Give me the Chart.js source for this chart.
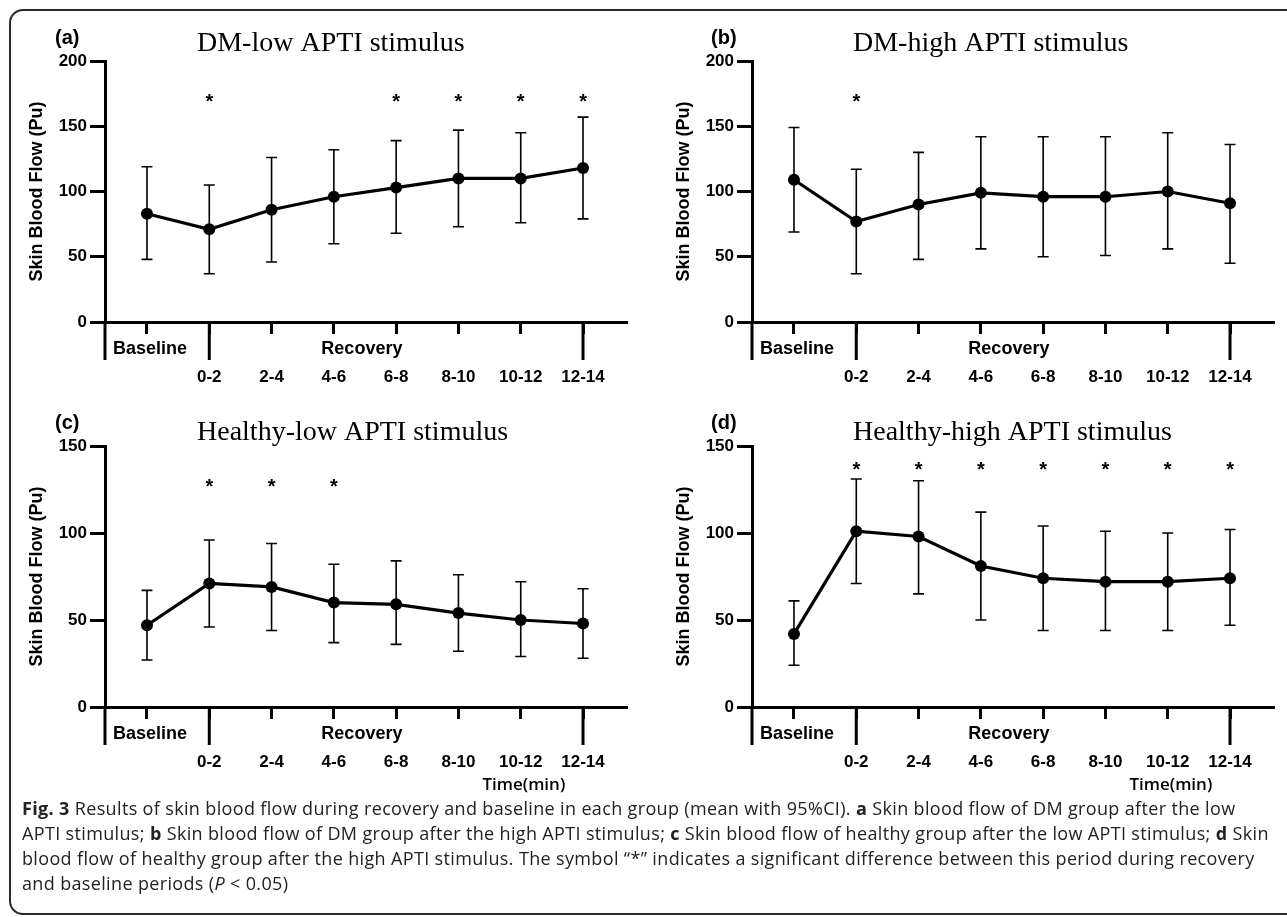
<!DOCTYPE html>
<html>
<head>
<meta charset="utf-8">
<script src="https://cdn.jsdelivr.net/npm/chart.js@4.4.0/dist/chart.umd.min.js"></script>
<style>
    body {
        margin: 0;
        width: 1287px;
        height: 917px;
        overflow: hidden;
        position: relative;
        background: #fff;
    }
    .frame {
        position: absolute;
        left: 9px;
        top: 9px;
        width: 1320px;
        height: 906px;
        box-sizing: border-box;
        border: 2px solid #2a2a2a;
        border-radius: 14px;
    }
    canvas {
        position: absolute;
    }
    #caption {
        position: absolute;
        left: 22px;
        top: 796px;
        font-family: 'Open Sans', 'DejaVu Sans', sans-serif;
        font-size: 18px;
        letter-spacing: 0.35px;
        line-height: 25px;
        color: #222;
        white-space: nowrap;
    }
</style>
</head>
<body>
<div class="frame"></div>
<canvas id="chartA" width="640" height="395" style="left:0;top:0"></canvas>
<canvas id="chartB" width="640" height="395" style="left:647px;top:0"></canvas>
<canvas id="chartC" width="640" height="420" style="left:0;top:385px"></canvas>
<canvas id="chartD" width="640" height="420" style="left:647px;top:385px"></canvas>
<div id="caption">
<b>Fig. 3</b> Results of skin blood flow during recovery and baseline in each group (mean with 95%CI). <b>a</b> Skin blood flow of DM group after the low<br>
APTI stimulus; <b>b</b> Skin blood flow of DM group after the high APTI stimulus; <b>c</b> Skin blood flow of healthy group after the low APTI stimulus; <b>d</b> Skin<br>
blood flow of healthy group after the high APTI stimulus. The symbol “*” indicates a significant difference between this period during recovery<br>
and baseline periods (<i>P</i> &lt; 0.05)
</div>
<script>
const categories = ['Baseline', '0-2', '2-4', '4-6', '6-8', '8-10', '10-12', '12-14'];

// (a) DM group, low stimulus
const dmLowMean = [83, 71, 86, 96, 103, 110, 110, 118];
const dmLowLower = [48, 37, 46, 60, 68, 73, 76, 79];
const dmLowUpper = [119, 105, 126, 132, 139, 147, 145, 157];
const dmLowStars = [1, 4, 5, 6, 7];

// (b) DM group, high stimulus
const dmHighMean = [109, 77, 90, 99, 96, 96, 100, 91];
const dmHighLower = [69, 37, 48, 56, 50, 51, 56, 45];
const dmHighUpper = [149, 117, 130, 142, 142, 142, 145, 136];
const dmHighStars = [1];

// (c) healthy group, low stimulus
const healthyLowMean = [47, 71, 69, 60, 59, 54, 50, 48];
const healthyLowLower = [27, 46, 44, 37, 36, 32, 29, 28];
const healthyLowUpper = [67, 96, 94, 82, 84, 76, 72, 68];
const healthyLowStars = [1, 2, 3];

// (d) healthy group, high stimulus
const healthyHighMean = [42, 101, 98, 81, 74, 72, 72, 74];
const healthyHighLower = [24, 71, 65, 50, 44, 44, 44, 47];
const healthyHighUpper = [61, 131, 130, 112, 104, 101, 100, 102];
const healthyHighStars = [1, 2, 3, 4, 5, 6, 7];

const SANS = "'Liberation Sans', Arial, sans-serif";
const SERIF = "'Liberation Serif', 'Times New Roman', serif";

const panelDecor = {
    id: 'panelDecor',
    beforeDatasetsDraw: function (chart, args, opts) {
        const ctx = chart.ctx;
        const xs = chart.scales.x;
        const ys = chart.scales.y;
        ctx.save();
        ctx.strokeStyle = '#000';
        ctx.lineWidth = 1.6;
        opts.mean.forEach((v, i) => {
            const x = xs.getPixelForValue(i);
            const top = ys.getPixelForValue(opts.upper[i]);
            const bot = ys.getPixelForValue(opts.lower[i]);
            ctx.beginPath();
            ctx.moveTo(x, top);
            ctx.lineTo(x, bot);
            ctx.moveTo(x - 5.5, top);
            ctx.lineTo(x + 5.5, top);
            ctx.moveTo(x - 5.5, bot);
            ctx.lineTo(x + 5.5, bot);
            ctx.stroke();
        });
        ctx.restore();
    },
    afterDraw: function (chart, args, opts) {
        const ctx = chart.ctx;
        const xs = chart.scales.x;
        const ys = chart.scales.y;
        const area = chart.chartArea;
        ctx.save();
        ctx.fillStyle = '#000';
        ctx.strokeStyle = '#000';

        // group dividers below the axis
        ctx.lineWidth = 3;
        ctx.beginPath();
        ctx.moveTo(area.left, area.bottom);
        ctx.lineTo(area.left, area.bottom + 38);
        [1, 7].forEach(i => {
            const x = xs.getPixelForValue(i);
            ctx.moveTo(x, area.bottom);
            ctx.lineTo(x, area.bottom + 38);
        });
        ctx.stroke();

        // panel letter and title
        ctx.textBaseline = 'middle';
        ctx.textAlign = 'left';
        ctx.font = `bold 20px ${SANS}`;
        ctx.fillText(opts.letter, opts.letterX, 38);
        ctx.textBaseline = 'alphabetic';
        ctx.font = `28px ${SERIF}`;
        ctx.fillText(opts.title, opts.titleX, opts.titleY);

        // group labels
        ctx.textAlign = 'center';
        ctx.textBaseline = 'middle';
        ctx.font = `bold 18px ${SANS}`;
        ctx.fillText('Baseline', xs.getPixelForValue(0.05), area.bottom + 27);
        ctx.fillText('Recovery', xs.getPixelForValue(3.45), area.bottom + 27);

        // significance marks
        ctx.font = `bold 20px ${SANS}`;
        opts.stars.forEach(i => {
            ctx.fillText('*', xs.getPixelForValue(i), ys.getPixelForValue(opts.starAt) + 4);
        });

        if (opts.timeLabel) {
            ctx.font = `600 17px 'Open Sans', ${SANS}`;
            ctx.fillText('Time(min)', xs.getPixelForValue(6.05), area.bottom + 78);
        }
        ctx.restore();
    }
};

function makePanel(canvasId, cfg) {
    const ctx = document.getElementById(canvasId).getContext('2d');
    return new Chart(ctx, {
        type: 'line',
        data: {
            datasets: [{
                data: cfg.mean.map((v, i) => ({ x: i, y: v })),
                borderColor: '#000',
                borderWidth: 3.2,
                pointRadius: 6,
                pointBorderWidth: 0,
                pointBackgroundColor: '#000',
                tension: 0
            }]
        },
        options: {
            responsive: false,
            animation: false,
            layout: {
                padding: { left: 0, right: 13, top: 61, bottom: cfg.timeLabel ? 38 : 13 }
            },
            plugins: {
                legend: { display: false },
                tooltip: { enabled: false },
                panelDecor: cfg
            },
            scales: {
                x: {
                    type: 'linear',
                    min: -0.674,
                    max: 7.706,
                    afterBuildTicks: function (axis) {
                        axis.ticks = categories.map((c, i) => ({ value: i }));
                    },
                    afterFit: function (axis) {
                        axis.height = 60;
                    },
                    grid: {
                        drawOnChartArea: false,
                        tickLength: 12,
                        tickWidth: 3,
                        tickColor: '#000'
                    },
                    border: { display: true, color: '#000', width: 3 },
                    ticks: {
                        color: '#000',
                        autoSkip: false,
                        maxRotation: 0,
                        padding: 33,
                        font: { family: SANS, weight: 'bold', size: 17 },
                        callback: function (value) {
                            return value === 0 ? '' : categories[value];
                        }
                    }
                },
                y: {
                    min: 0,
                    max: cfg.yMax,
                    afterFit: function (axis) {
                        axis.width = 105;
                    },
                    grid: {
                        drawOnChartArea: false,
                        tickLength: 15,
                        tickWidth: 3,
                        tickColor: '#000'
                    },
                    border: { display: true, color: '#000', width: 3 },
                    ticks: {
                        stepSize: 50,
                        color: '#000',
                        padding: 3,
                        font: { family: SANS, weight: 'bold', size: 17 }
                    },
                    title: {
                        display: true,
                        text: 'Skin Blood Flow (Pu)',
                        color: '#000',
                        padding: { top: 26, bottom: 0 },
                        font: { family: SANS, weight: 'bold', size: 18 }
                    }
                }
            }
        },
        plugins: [panelDecor]
    });
}

makePanel('chartA', {
    letter: '(a)', letterX: 55, title: 'DM-low APTI stimulus', titleX: 197, titleY: 51,
    mean: dmLowMean, lower: dmLowLower, upper: dmLowUpper, stars: dmLowStars,
    yMax: 200, starAt: 171, timeLabel: false
});
makePanel('chartB', {
    letter: '(b)', letterX: 64, title: 'DM-high APTI stimulus', titleX: 206, titleY: 51,
    mean: dmHighMean, lower: dmHighLower, upper: dmHighUpper, stars: dmHighStars,
    yMax: 200, starAt: 171, timeLabel: false
});
makePanel('chartC', {
    letter: '(c)', letterX: 55, title: 'Healthy-low APTI stimulus', titleX: 197, titleY: 55,
    mean: healthyLowMean, lower: healthyLowLower, upper: healthyLowUpper, stars: healthyLowStars,
    yMax: 150, starAt: 128.5, timeLabel: true
});
makePanel('chartD', {
    letter: '(d)', letterX: 64, title: 'Healthy-high APTI stimulus', titleX: 206, titleY: 55,
    mean: healthyHighMean, lower: healthyHighLower, upper: healthyHighUpper, stars: healthyHighStars,
    yMax: 150, starAt: 138, timeLabel: true
});
</script>
</body>
</html>
